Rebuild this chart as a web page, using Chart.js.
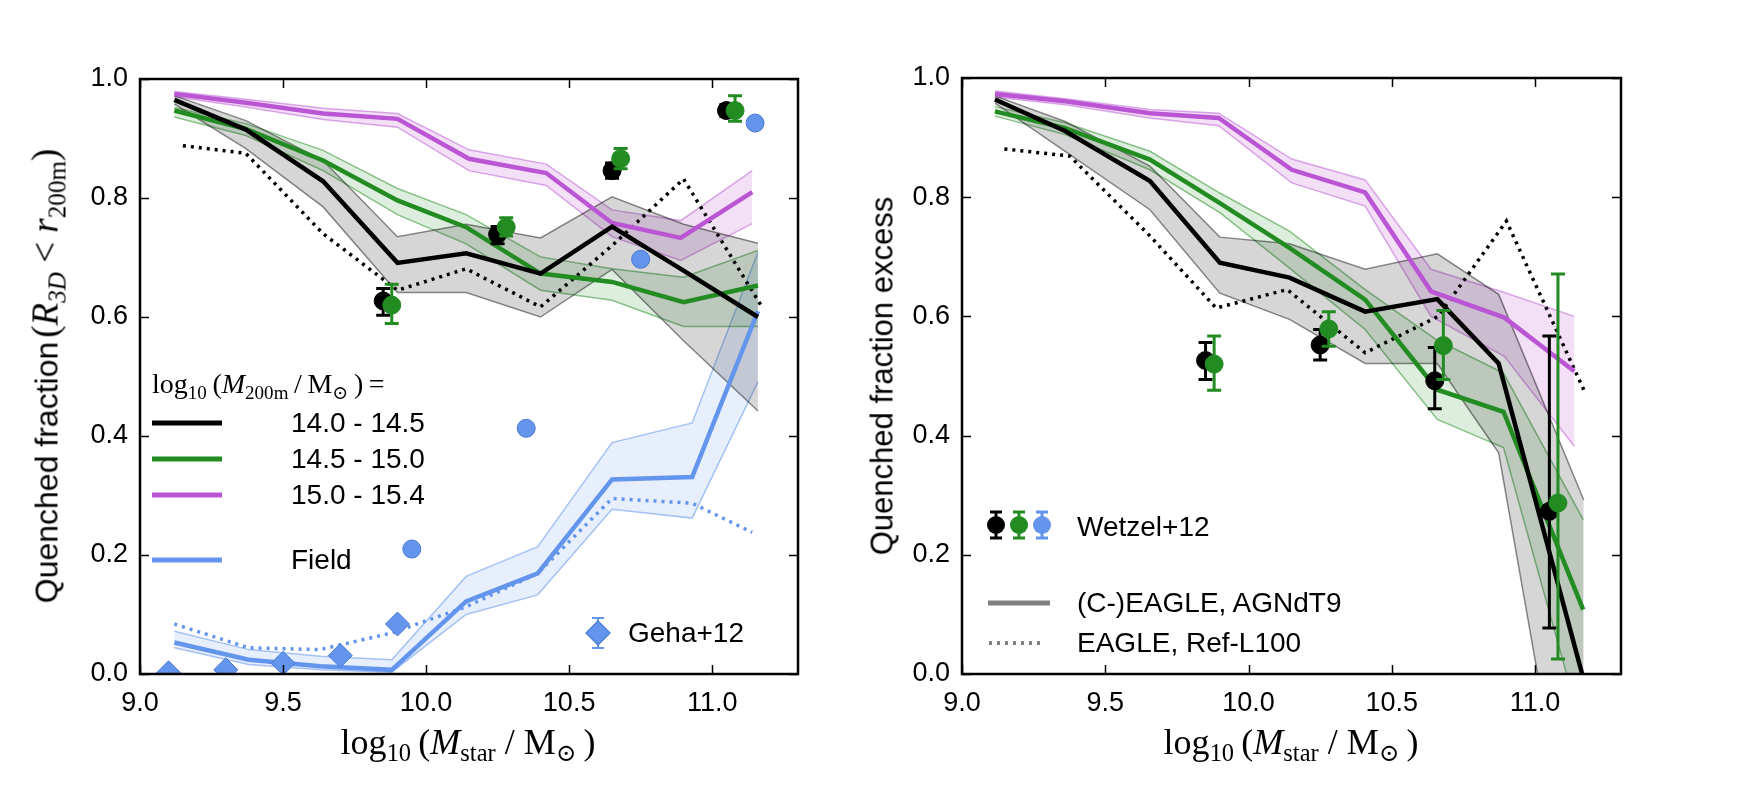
<!DOCTYPE html>
<html><head><meta charset="utf-8">
<script src="https://cdn.jsdelivr.net/npm/chart.js@4.4.1/dist/chart.umd.min.js"></script>
<style>
body{margin:0;background:#fff;}
#wrap{position:relative;width:1744px;height:785px;overflow:hidden;background:#fff;}
canvas{position:absolute;top:0;}
.t{position:absolute;white-space:nowrap;color:#000;line-height:1;}
.sans{font-family:"Liberation Sans",Arial,sans-serif;}
.serif{font-family:"Liberation Serif","DejaVu Serif",serif;}
.sw{position:absolute;height:5px;transform:translateY(-50%);}
.dot{position:absolute;border-radius:50%;transform:translate(-50%,-50%);}
.eb{position:absolute;transform:translate(-50%,-50%);}
sub{font-size:68%;vertical-align:-0.3em;line-height:0;}
</style></head><body>
<div id="wrap">
<canvas id="cl" width="872" height="785" style="left:0"></canvas>
<canvas id="cr" width="872" height="785" style="left:872px"></canvas>

<!-- axis titles -->
<div class="t serif" style="left:468px;top:742px;transform:translate(-50%,-50%);font-size:36px">log<sub>10</sub>&#8201;(<i>M</i><sub>star</sub> / M<sub>⊙</sub>&#8201;)</div>
<div class="t serif" style="left:1291px;top:742px;transform:translate(-50%,-50%);font-size:36px">log<sub>10</sub>&#8201;(<i>M</i><sub>star</sub> / M<sub>⊙</sub>&#8201;)</div>
<div class="t" style="left:45px;top:376px;transform:translate(-50%,-50%) rotate(-90deg)"><span class="sans" style="font-size:32px">Quenched fraction</span> <span class="serif" style="font-size:37px">(<i>R</i><sub><i>3D</i></sub> &lt; <i>r</i><sub>200m</sub>)</span></div>
<div class="t sans" style="left:882px;top:376px;transform:translate(-50%,-50%) rotate(-90deg);font-size:31px">Quenched fraction excess</div>

<!-- left legend -->
<div class="t serif" style="left:152px;top:384px;transform:translateY(-50%);font-size:28px">log<sub>10</sub>&#8201;(<i>M</i><sub>200m</sub>&#8201;/&#8201;M<sub>⊙</sub>&#8201;)&#8201;=</div>
<div class="sw" style="left:152px;top:423px;width:70px;background:#000"></div>
<div class="t sans" style="left:291px;top:423px;transform:translateY(-50%);font-size:28px">14.0 - 14.5</div>
<div class="sw" style="left:152px;top:459px;width:70px;background:#228B22"></div>
<div class="t sans" style="left:291px;top:459px;transform:translateY(-50%);font-size:28px">14.5 - 15.0</div>
<div class="sw" style="left:152px;top:495px;width:70px;background:#BA55D3"></div>
<div class="t sans" style="left:291px;top:495px;transform:translateY(-50%);font-size:28px">15.0 - 15.4</div>
<div class="sw" style="left:152px;top:560px;width:70px;background:#6495ED"></div>
<div class="t sans" style="left:291px;top:560px;transform:translateY(-50%);font-size:28px">Field</div>
<div class="eb" style="left:598px;top:633px;width:2px;height:30px;background:#6495ED"></div>
<div class="eb" style="left:598px;top:618px;width:12px;height:2px;background:#6495ED"></div>
<div class="eb" style="left:598px;top:648px;width:12px;height:2px;background:#6495ED"></div>
<div class="eb" style="left:598px;top:633px;width:16px;height:16px;background:#6495ED;border:1px solid #4a78d0;transform:translate(-50%,-50%) rotate(45deg)"></div>
<div class="t sans" style="left:628px;top:633px;transform:translateY(-50%);font-size:28px">Geha+12</div>

<!-- right legend -->
<div class="eb" style="left:996px;top:525px;width:3px;height:26px;background:#000"></div>
<div class="eb" style="left:996px;top:512px;width:12px;height:3px;background:#000"></div>
<div class="eb" style="left:996px;top:538px;width:12px;height:3px;background:#000"></div>
<div class="dot" style="left:996px;top:525px;width:18px;height:18px;background:#000"></div>
<div class="eb" style="left:1019px;top:525px;width:3px;height:26px;background:#228B22"></div>
<div class="eb" style="left:1019px;top:512px;width:12px;height:3px;background:#228B22"></div>
<div class="eb" style="left:1019px;top:538px;width:12px;height:3px;background:#228B22"></div>
<div class="dot" style="left:1019px;top:525px;width:18px;height:18px;background:#228B22"></div>
<div class="eb" style="left:1042px;top:525px;width:3px;height:26px;background:#6495ED"></div>
<div class="eb" style="left:1042px;top:512px;width:12px;height:3px;background:#6495ED"></div>
<div class="eb" style="left:1042px;top:538px;width:12px;height:3px;background:#6495ED"></div>
<div class="dot" style="left:1042px;top:525px;width:18px;height:18px;background:#6495ED"></div>
<div class="t sans" style="left:1077px;top:527px;transform:translateY(-50%);font-size:28px">Wetzel+12</div>
<div class="sw" style="left:988px;top:603px;width:62px;background:#808080"></div>
<div class="t sans" style="left:1077px;top:603px;transform:translateY(-50%);font-size:28px">(C-)EAGLE, AGNdT9</div>
<div class="sw" style="left:989px;top:643px;width:56px;height:4px;background:repeating-linear-gradient(90deg,#808080 0 3px,transparent 3px 8px)"></div>
<div class="t sans" style="left:1077px;top:643px;transform:translateY(-50%);font-size:28px">EAGLE, Ref-L100</div>
</div>
<script>
// ---------- tick labels ----------
const xTicks = [9.0, 9.5, 10.0, 10.5, 11.0];
const yTicks = [0.0, 0.2, 0.4, 0.6, 0.8, 1.0];

// ---------- LEFT PANEL: quenched fraction within r200m ----------
const xBinL      = [9.12, 9.37, 9.64, 9.90, 10.14, 10.40, 10.65, 10.90, 11.16];
const blackL     = [0.965, 0.915, 0.828, 0.691, 0.707, 0.673, 0.752, 0.678, 0.600];
const blackLHi   = [0.972, 0.930, 0.863, 0.735, 0.756, 0.733, 0.802, 0.756, 0.724];
const blackLLo   = [0.958, 0.883, 0.785, 0.641, 0.641, 0.600, 0.680, 0.560, 0.442];
const greenL     = [0.947, 0.916, 0.863, 0.796, 0.751, 0.673, 0.659, 0.625, 0.653];
const greenLHi   = [0.952, 0.925, 0.880, 0.816, 0.772, 0.701, 0.681, 0.667, 0.712];
const greenLLo   = [0.936, 0.905, 0.846, 0.772, 0.723, 0.645, 0.628, 0.584, 0.584];
const xPurpleL   = [9.12, 9.37, 9.64, 9.90, 10.15, 10.42, 10.65, 10.89, 11.14];
const purpleL    = [0.975, 0.960, 0.942, 0.933, 0.866, 0.842, 0.758, 0.733, 0.810];
const purpleLHi  = [0.979, 0.966, 0.951, 0.942, 0.881, 0.857, 0.780, 0.762, 0.846];
const purpleLLo  = [0.970, 0.953, 0.932, 0.919, 0.846, 0.821, 0.735, 0.695, 0.757];
const xDotL      = [9.15, 9.37, 9.64, 9.90, 10.14, 10.40, 10.65, 10.90, 11.17];
const refL       = [0.888, 0.875, 0.740, 0.645, 0.681, 0.617, 0.720, 0.832, 0.620];
const xFieldL    = [9.12, 9.38, 9.63, 9.88, 10.14, 10.39, 10.65, 10.93, 11.16];
const fieldL     = [0.053, 0.024, 0.013, 0.007, 0.122, 0.169, 0.327, 0.331, 0.610];
const fieldLHi   = [0.072, 0.041, 0.030, 0.024, 0.164, 0.214, 0.389, 0.422, 0.709];
const fieldLLo   = [0.044, 0.016, 0.007, 0.003, 0.100, 0.133, 0.277, 0.262, 0.491];
const xFieldRef  = [9.12, 9.38, 9.63, 9.88, 10.14, 10.39, 10.65, 10.93, 11.14];
const fieldRefL  = [0.084, 0.044, 0.041, 0.069, 0.113, 0.169, 0.295, 0.287, 0.238];
const gehaX      = [9.10, 9.30, 9.50, 9.70, 9.90];
const gehaY      = [0.002, 0.007, 0.018, 0.031, 0.084];
const wetBlackX  = [9.85, 10.25, 10.65, 11.05];
const wetBlackL  = [0.627, 0.739, 0.846, 0.947];
const wetBlackLLo= [0.603, 0.723, 0.833, 0.937];
const wetBlackLHi= [0.648, 0.752, 0.859, 0.957];
const wetGreenX  = [9.88, 10.28, 10.68, 11.08];
const wetGreenL  = [0.620, 0.751, 0.866, 0.947];
const wetGreenLLo= [0.589, 0.736, 0.849, 0.929];
const wetGreenLHi= [0.655, 0.767, 0.883, 0.972];
const wetBlueX   = [9.95, 10.35, 10.75, 11.15];
const wetBlueL   = [0.210, 0.413, 0.697, 0.926];

// ---------- RIGHT PANEL: quenched fraction excess ----------
const xBinR      = [9.115, 9.36, 9.656, 9.90, 10.143, 10.407, 10.659, 10.873, 11.17];
const blackR     = [0.964, 0.911, 0.827, 0.690, 0.665, 0.608, 0.629, 0.521, -0.01];
const blackRHi   = [0.970, 0.927, 0.852, 0.733, 0.722, 0.679, 0.705, 0.637, 0.292];
const blackRLo   = [0.958, 0.877, 0.779, 0.639, 0.595, 0.521, 0.521, 0.371, -0.44];
const xGreenR    = [9.115, 9.36, 9.656, 9.90, 10.143, 10.407, 10.659, 10.89, 11.168];
const greenR     = [0.944, 0.916, 0.863, 0.790, 0.715, 0.628, 0.477, 0.440, 0.108];
const greenRHi   = [0.952, 0.925, 0.877, 0.807, 0.743, 0.645, 0.560, 0.505, 0.259];
const greenRLo   = [0.936, 0.905, 0.846, 0.774, 0.681, 0.578, 0.427, 0.380, -0.10];
const xPurpleR   = [9.115, 9.36, 9.656, 9.896, 10.151, 10.407, 10.637, 10.893, 11.137];
const purpleR    = [0.973, 0.961, 0.941, 0.933, 0.846, 0.808, 0.642, 0.598, 0.508];
const purpleRHi  = [0.978, 0.965, 0.947, 0.941, 0.864, 0.829, 0.679, 0.640, 0.600];
const purpleRLo  = [0.968, 0.955, 0.933, 0.920, 0.824, 0.785, 0.600, 0.533, 0.382];
const xDotR      = [9.148, 9.376, 9.656, 9.887, 10.135, 10.407, 10.662, 10.90, 11.17];
const refR       = [0.881, 0.869, 0.735, 0.614, 0.645, 0.539, 0.600, 0.760, 0.477];
const wetBlackR  = [0.526, 0.552, 0.492, 0.273];
const wetBlackRLo= [0.494, 0.527, 0.445, 0.077];
const wetBlackRHi= [0.556, 0.578, 0.548, 0.567];
const wetGreenR  = [0.520, 0.579, 0.551, 0.287];
const wetGreenRLo= [0.476, 0.550, 0.494, 0.025];
const wetGreenRHi= [0.567, 0.608, 0.610, 0.671];

// ---------- helpers ----------
const BLACK='0,0,0', GREEN='34,139,34', PURPLE='186,85,211', BLUE='100,149,237';
const pts = (xs, ys) => xs.map((x,i)=>({x:x, y:ys[i]}));
function band(xs, hi, lo, rgb, fa, ea){
  return [
    {data:pts(xs,hi), showLine:true, fill:'+1', backgroundColor:`rgba(${rgb},${fa})`, borderColor:`rgba(${rgb},${ea})`, borderWidth:1.5, pointRadius:0, order:10},
    {data:pts(xs,lo), showLine:true, fill:false, borderColor:`rgba(${rgb},${ea})`, borderWidth:1.5, pointRadius:0, order:10}
  ];
}
function line(xs, ys, rgb, w, dash){
  return {data:pts(xs,ys), showLine:true, fill:false, borderColor:`rgb(${rgb})`, borderWidth:w, borderDash:dash||[], borderCapStyle:'butt', pointRadius:0, order: dash?6:5};
}
function markers(xs, ys, col, edge, r, style, lo, hi){
  const d = {data:pts(xs,ys), showLine:false, pointRadius:r, pointHoverRadius:r, pointStyle:style||'circle', backgroundColor:col, borderColor:edge||col, borderWidth:1, order:1};
  if(lo){ d.errLo=lo; d.errHi=hi; d.errColor=col; }
  return d;
}

const framePlugin = {
  id:'frame',
  afterDraw(chart){
    const {ctx, chartArea:a, scales:{x,y}} = chart;
    ctx.save();
    ctx.strokeStyle='#000'; ctx.lineWidth=1.5;
    const L=9;
    x.ticks.forEach(t=>{const p=Math.round(x.getPixelForValue(t.value))+0.5;
      ctx.beginPath(); ctx.moveTo(p,a.bottom); ctx.lineTo(p,a.bottom-L); ctx.moveTo(p,a.top); ctx.lineTo(p,a.top+L); ctx.stroke();});
    y.ticks.forEach(t=>{const p=Math.round(y.getPixelForValue(t.value))+0.5;
      ctx.beginPath(); ctx.moveTo(a.left,p); ctx.lineTo(a.left+L,p); ctx.moveTo(a.right,p); ctx.lineTo(a.right-L,p); ctx.stroke();});
    ctx.lineWidth=2.5;
    ctx.strokeRect(a.left,a.top,a.right-a.left,a.bottom-a.top);
    ctx.restore();
  }
};
const errPlugin = {
  id:'errbars',
  beforeDatasetDraw(chart, args){
    const ds = chart.data.datasets[args.index];
    if(!ds.errLo) return;
    const {ctx, scales:{x,y}} = chart;
    ctx.save(); ctx.strokeStyle=ds.errColor; ctx.lineWidth=3;
    ds.data.forEach((p,i)=>{
      const px=x.getPixelForValue(p.x), lo=y.getPixelForValue(ds.errLo[i]), hi=y.getPixelForValue(ds.errHi[i]);
      ctx.beginPath(); ctx.moveTo(px,lo); ctx.lineTo(px,hi);
      ctx.moveTo(px-7,lo); ctx.lineTo(px+7,lo); ctx.moveTo(px-7,hi); ctx.lineTo(px+7,hi); ctx.stroke();
    });
    ctx.restore();
  }
};

function makeOptions(yWidth, pad){
  const tickFont = {family:'"Liberation Sans", Arial, sans-serif', size:27};
  return {
    responsive:false, animation:false, events:[],
    layout:{padding:pad},
    plugins:{legend:{display:false}, tooltip:{enabled:false}},
    scales:{
      x:{type:'linear', min:9.0, max:11.3,
         afterBuildTicks:s=>{s.ticks = xTicks.map(v=>({value:v}));},
         afterFit:s=>{s.height=111;},
         ticks:{font:tickFont, color:'#000', padding:13, maxRotation:0, callback:v=>Number(v).toFixed(1)},
         grid:{display:false, drawTicks:false}, border:{display:false}},
      y:{type:'linear', min:0, max:1.0,
         afterBuildTicks:s=>{s.ticks = yTicks.map(v=>({value:v}));},
         afterFit:s=>{s.width=yWidth;},
         ticks:{font:tickFont, color:'#000', padding:12, callback:v=>Number(v).toFixed(1)},
         grid:{display:false, drawTicks:false}, border:{display:false}}
    }
  };
}

// ---------- left chart ----------
new Chart(document.getElementById('cl'), {
  type:'scatter',
  data:{datasets:[
    ...band(xBinL, blackLHi, blackLLo, BLACK, 0.16, 0.45),
    ...band(xBinL, greenLHi, greenLLo, GREEN, 0.15, 0.5),
    ...band(xPurpleL, purpleLHi, purpleLLo, PURPLE, 0.18, 0.5),
    ...band(xFieldL, fieldLHi, fieldLLo, BLUE, 0.15, 0.55),
    line(xDotL, refL, BLACK, 3.5, [3,5]),
    line(xFieldRef, fieldRefL, BLUE, 3.5, [3,5]),
    line(xBinL, blackL, BLACK, 4.5),
    line(xBinL, greenL, GREEN, 4.5),
    line(xPurpleL, purpleL, PURPLE, 4.5),
    line(xFieldL, fieldL, BLUE, 4.5),
    markers(gehaX, gehaY, '#6495ED', '#4a78d0', 12, 'rectRot'),
    markers(wetBlueX, wetBlueL, '#6495ED', '#4a78d0', 9),
    markers(wetGreenX, wetGreenL, '#228B22', '#228B22', 9, 'circle', wetGreenLLo, wetGreenLHi),
    markers(wetBlackX, wetBlackL, '#000000', '#000000', 9, 'circle', wetBlackLLo, wetBlackLHi)
  ]},
  options: makeOptions(140, {left:0, right:74, top:79, bottom:0}),
  plugins:[framePlugin, errPlugin]
});

// ---------- right chart ----------
new Chart(document.getElementById('cr'), {
  type:'scatter',
  data:{datasets:[
    ...band(xBinR, blackRHi, blackRLo, BLACK, 0.16, 0.45),
    ...band(xGreenR, greenRHi, greenRLo, GREEN, 0.15, 0.5),
    ...band(xPurpleR, purpleRHi, purpleRLo, PURPLE, 0.18, 0.5),
    line(xDotR, refR, BLACK, 3.5, [3,5]),
    line(xBinR, blackR, BLACK, 4.5),
    line(xGreenR, greenR, GREEN, 4.5),
    line(xPurpleR, purpleR, PURPLE, 4.5),
    markers(wetGreenX, wetGreenR, '#228B22', '#228B22', 9, 'circle', wetGreenRLo, wetGreenRHi),
    markers(wetBlackX, wetBlackR, '#000000', '#000000', 9, 'circle', wetBlackRLo, wetBlackRHi)
  ]},
  options: makeOptions(90, {left:0, right:123, top:78, bottom:0}),
  plugins:[framePlugin, errPlugin]
});
</script>
</body></html>
